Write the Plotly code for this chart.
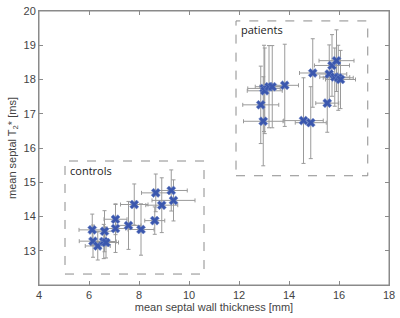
import plotly.graph_objects as go

# controls
ctrl_x = [6.13, 6.62, 7.06, 7.06, 7.58, 7.81, 8.08, 8.63, 8.67, 8.91, 9.29, 9.38, 6.16, 6.35, 6.59, 6.68]
ctrl_y = [13.61, 13.57, 13.92, 13.65, 13.74, 14.35, 13.62, 13.88, 14.69, 14.33, 14.76, 14.47, 13.28, 13.14, 13.27, 13.24]
ctrl_xerr = [0.53, 0.46, 0.46, 0.4, 0.5, 0.55, 0.52, 0.4, 0.57, 0.64, 0.64, 0.86, 0.55, 0.5, 0.5, 0.5]
ctrl_yerr = [0.46, 0.6, 0.45, 0.7, 0.7, 0.6, 0.75, 0.4, 0.55, 0.8, 0.6, 0.6, 0.47, 0.41, 0.5, 0.45]

# patients
pat_x = [13.0, 13.03, 13.2, 13.33, 13.83, 12.87, 12.97, 14.58, 14.87, 14.95, 15.53, 15.61, 15.72, 15.9, 15.83, 15.97, 16.06]
pat_y = [17.74, 17.67, 17.79, 17.79, 17.83, 17.26, 16.78, 16.8, 16.74, 18.19, 17.31, 18.16, 18.41, 18.55, 18.07, 18.05, 18.0]
pat_xerr = [0.65, 0.7, 0.55, 0.5, 0.55, 0.72, 0.79, 0.79, 0.62, 0.53, 0.46, 0.7, 0.7, 0.7, 0.6, 0.6, 0.6]
pat_yerr = [1.26, 1.25, 1.2, 1.2, 1.2, 1.13, 1.3, 1.25, 1.05, 1.0, 0.85, 0.85, 0.9, 0.9, 0.85, 0.95, 0.85]

x_ticks = [4, 6, 8, 10, 12, 14, 16, 18]
y_ticks = [13, 14, 15, 16, 17, 18, 19, 20]

x_title = "mean septal wall thickness [mm]"
y_title = "mean septal T<sub>2</sub>* [ms]"

MARK = "#3b57ad"
ERR = "#9a9a9a"

fig = go.Figure()
for xs, ys, ex, ey in [(ctrl_x, ctrl_y, ctrl_xerr, ctrl_yerr), (pat_x, pat_y, pat_xerr, pat_yerr)]:
    fig.add_trace(go.Scatter(
        x=xs, y=ys, mode="markers",
        marker=dict(symbol="x", size=8, color=MARK, line=dict(width=0.6, color="#6f86c8")),
        error_x=dict(type="data", array=ex, color=ERR, thickness=1, width=2),
        error_y=dict(type="data", array=ey, color=ERR, thickness=1, width=2),
        showlegend=False, hoverinfo="x+y",
    ))

# dashed group boxes
fig.add_shape(type="rect", x0=5.04, x1=10.6, y0=12.32, y1=15.62,
              line=dict(color="#8c8c8c", width=1, dash="dash"))
fig.add_shape(type="rect", x0=11.88, x1=17.15, y0=15.19, y1=19.71,
              line=dict(color="#8c8c8c", width=1, dash="dash"))
# plot frame
fig.add_shape(type="rect", xref="paper", yref="paper", x0=0, x1=1, y0=0, y1=1,
              line=dict(color="#8a8a8a", width=1), layer="above")

fig.add_annotation(x=5.15, y=15.35, text="controls", showarrow=False, xanchor="left", yanchor="middle",
                   font=dict(family="Open Sans", size=11, color="#222"))
fig.add_annotation(x=12.0, y=19.45, text="patients", showarrow=False, xanchor="left", yanchor="middle",
                   font=dict(family="Open Sans", size=11, color="#222"))

axis_common = dict(showline=True, linecolor="#8a8a8a", linewidth=1, mirror="ticks",
                   ticks="inside", ticklen=4, tickcolor="#8a8a8a", showgrid=False, zeroline=False,
                   ticklabeloverflow="allow",
                   tickfont=dict(family="Liberation Sans", size=11, color="#444"))

fig.update_xaxes(range=[4, 18], tickvals=x_ticks, title=dict(text=x_title, standoff=1,
                 font=dict(family="Liberation Sans", size=11, color="#444")), **axis_common)
fig.update_yaxes(range=[12, 20], tickvals=y_ticks, title=dict(text=y_title, standoff=4,
                 font=dict(family="Liberation Sans", size=11, color="#444")), **axis_common)

fig.update_layout(width=400, height=318, margin=dict(l=39, r=7, t=5, b=33),
                  plot_bgcolor="white", paper_bgcolor="white")

fig.write_html("out.html", config={"displayModeBar": False},
               post_script="document.body.style.margin='0px';document.body.style.overflow='hidden';")
